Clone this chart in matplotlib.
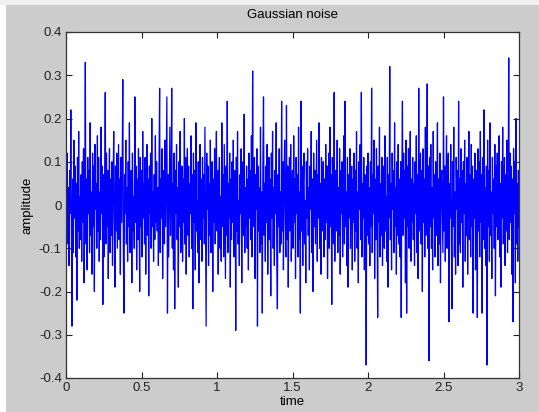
import numpy as np
import matplotlib
matplotlib.use("Agg")
import matplotlib.pyplot as plt
import matplotlib.ticker as ticker
from matplotlib.patches import Rectangle

plt.rcParams.update({'font.family': ['Liberation Sans', 'DejaVu Sans'],
                     'font.size': 9,
                     'axes.unicode_minus': False})

duration = 3.0
amplitude = [
    .30, -.05, .12, -.09, .04, -.14, .08, -.02, .22, -.07, -.28, .06, -.11, .15, -.03, .09, -.12, .05, -.22, .11, -.06, .17, -.10, .02, -.08,
    .07, -.13, .10, -.04, .13, -.18, .01, .33, -.09, .06, -.15, .11, -.02, .08, -.11, .19, -.07, .03, -.16, .12, -.05, .09, -.20, .14, -.01,
    .05, -.10, .16, -.06, .11, -.13, .03, -.08, .18, -.02, .09, -.23, .07, -.12, .04, .26, -.09, .12, -.05, .08, -.17, .02, .13, -.11, .06,
    -.07, .10, -.14, .05, .17, -.03, -.19, .09, -.06, .12, -.10, .01, .14, -.08, .06, -.16, .11, -.04, .08, .29, -.12, -.25, .07, -.02, .15,
    -.09, .04, -.13, .10, -.05, .19, -.11, .03, .08, -.18, .12, -.06, .02, -.10, .25, -.04, .09, -.15, .06, -.08, .13, -.01, -.20, .11, -.05,
    .08, -.12, .17, -.03, .05, -.09, .11, -.16, .02, .14, -.07, .06, -.21, .09, -.02, .12, -.10, .20, -.05, .03, -.13, .07, -.08, .16, -.04,
    .10, -.06, .04, -.14, .09, .27, -.11, .06, -.03, .13, -.17, .02, .08, -.09, .15, -.05, .11, .25, -.25, .07, -.12, .03, .18, -.07, .01,
    .27, -.10, .05, -.15, .12, -.24, .08, -.02, .14, -.08, .04, -.19, .10, -.05, .17, -.11, .02, .09, -.13, .06, -.04, .20, -.09, .11, -.16,
    .03, .13, -.07, .09, -.12, .05, -.02, .16, -.10, .07, -.24, .12, -.04, .08, -.15, .19, -.06, .01, -.11, .10, -.18, .04, .14, -.08, .06,
    -.13, .11, -.03, .07, -.09, .18, -.05, -.28, .12, -.01, .09, -.14, .05, -.07, .15, -.11, .03, .10, -.20, .06, -.04, .13, -.09, .02, .17,
    -.06, .08, -.16, .04, .11, -.10, .02, -.13, .19, -.05, .07, -.12, .14, -.02, -.17, .09, -.07, .24, -.11, .05, -.03, .12, -.19, .06, -.08,
    .10, -.04, .15, -.12, .03, .08, -.29, .11, -.06, .17, -.09, .01, -.14, .07, -.02, .13, -.18, .05, .10, -.07, .21, -.11, .04, -.05, .09,
    -.10, .06, -.15, .12, -.03, .08, -.08, .16, -.12, .31, -.05, .02, .11, -.17, .07, -.01, .13, -.28, .09, -.06, .04, -.11, .18, -.09, .03,
    -.25, .10, .25, -.07, .05, -.13, .09, -.04, .14, -.16, .02, .11, -.08, .06, -.21, .12, -.03, .17, -.10, .04, -.14, .08, -.02, .19, -.12,
    -.24, .07, -.05, .13, -.11, .03, -.09, .24, -.06, .10, -.15, .05, .15, -.02, -.12, .23, -.08, .09, -.19, .04, .11, -.06, .14, -.13, .02,
    .08, -.10, .16, -.04, .06, -.17, .11, -.02, .07, -.12, .18, -.08, .03, -.25, .24, -.06, .09, -.14, .05, .12, -.09, .01, -.18, .10, -.03,
    .13, -.07, .04, -.15, .09, -.01, .17, -.11, .06, -.20, .12, -.05, .08, -.09, .02, .15, -.13, .07, -.03, .19, -.10, .05, -.16, .11, -.06,
    .03, .10, -.12, .06, -.08, .14, -.04, .09, -.17, .01, .12, -.10, .18, -.05, .07, -.23, .11, -.02, -.09, .26, -.13, .05, .08, -.06, .15,
    -.11, .04, -.07, .13, -.16, .08, -.02, .10, -.12, .06, .16, -.09, .24, -.05, .03, -.14, .11, -.19, .07, -.03, .13, -.10, .02, .09, -.15,
    .06, -.04, .12, -.13, .08, -.06, .17, -.10, .03, -.18, .10, -.01, .14, -.08, .26, -.12, .05, -.03, .11, -.15, .07, .02, -.37, .09, -.07,
    .12, -.09, .04, -.14, .10, -.05, .27, -.11, .07, -.02, .15, -.17, .06, -.08, .13, .01, -.26, .09, -.04, .18, -.12, .05, -.07, .11, -.14,
    .03, .09, -.10, .16, -.06, .02, -.13, .11, -.19, .07, -.03, .32, -.08, .05, -.15, .12, -.01, .08, -.11, .19, -.05, .04, -.16, .10, -.07,
    .14, -.09, .06, -.12, .10, -.26, .05, .24, -.07, .12, -.03, .08, -.18, .15, -.25, .09, -.05, .13, -.10, .02, .17, -.13, .06, -.04, .11,
    -.08, .05, -.14, .10, -.02, .16, -.11, .07, -.17, .27, -.06, .03, .12, -.09, .08, -.20, .13, -.04, .06, -.12, .18, -.07, .01, .28, -.10,
    .09, -.36, .11, -.05, .14, -.10, .04, -.15, .17, -.03, .07, -.12, .10, -.07, .02, .19, -.14, .06, -.09, .12, -.18, .05, .08, -.02, -.11,
    .25, -.06, .09, -.13, .04, .16, -.10, .07, .12, -.27, .05, -.03, .14, -.08, -.24, .10, -.05, .18, -.12, .03, -.16, .11, -.01, .08, -.14,
    .24, -.09, .06, -.11, .13, -.04, .08, -.19, .10, -.02, .15, -.13, .05, -.07, .11, -.16, .03, .17, -.08, .07, -.12, .14, -.05, .09, -.25,
    .06, -.03, .12, -.15, .08, .02, -.26, .13, -.06, .10, -.12, .17, -.04, .07, -.25, .11, -.08, .22, -.10, .04, -.14, .09, -.37, .15, -.05,
    .08, -.13, .19, -.07, .03, -.17, .11, -.02, .06, -.10, .14, -.21, .09, -.05, .12, -.08, .01, .16, -.12, .05, -.19, .10, -.03, .18, -.09,
    .04, .11, -.14, .07, -.06, .15, -.11, .02, .34, -.08, .12, -.04, .09, -.16, .06, -.27, .13, -.02, .10, -.18, .20, -.09, .05, -.13, .08,
    -.05,
]
amplitude = np.array(amplitude)
time = np.linspace(0, duration, len(amplitude))

fig = plt.figure(figsize=(5.39, 4.12), dpi=100, facecolor='#cccccc')
# white strip of the screenshot edge
fig.patches.append(Rectangle((0, 0), 6 / 539, 1, transform=fig.transFigure,
                             facecolor='white', edgecolor='none', zorder=-1))
fig.patches.append(Rectangle((0, 1 - 5 / 412), 1, 5 / 412, transform=fig.transFigure,
                             facecolor='#f0f0f0', edgecolor='none', zorder=-1))

ax = fig.add_axes([66 / 539, 34 / 412, 453 / 539, 346 / 412])
ax.plot(time, amplitude, color='#0000ff', linewidth=0.9)

ax.set_xlim(0, 3)
ax.set_ylim(-0.4, 0.4)
ax.xaxis.set_major_locator(ticker.MultipleLocator(0.5))
ax.yaxis.set_major_locator(ticker.MultipleLocator(0.1))
ax.xaxis.set_major_formatter(ticker.FormatStrFormatter('%g'))
ax.yaxis.set_major_formatter(ticker.FuncFormatter(lambda v, p: '%g' % round(v, 2)))
ax.tick_params(direction='in', length=4, width=0.8, top=True, right=True,
               labelsize=9.5, colors='#222222', pad=3)
for s in ax.spines.values():
    s.set_color('#333333')
    s.set_linewidth(0.9)

ax.set_title('Gaussian noise', fontsize=9.5, pad=10)
ax.set_xlabel('time', fontsize=9.5, labelpad=1)
ax.set_ylabel('amplitude', fontsize=9.5, labelpad=4)

fig.savefig('out.png', dpi=100, facecolor=fig.get_facecolor())
